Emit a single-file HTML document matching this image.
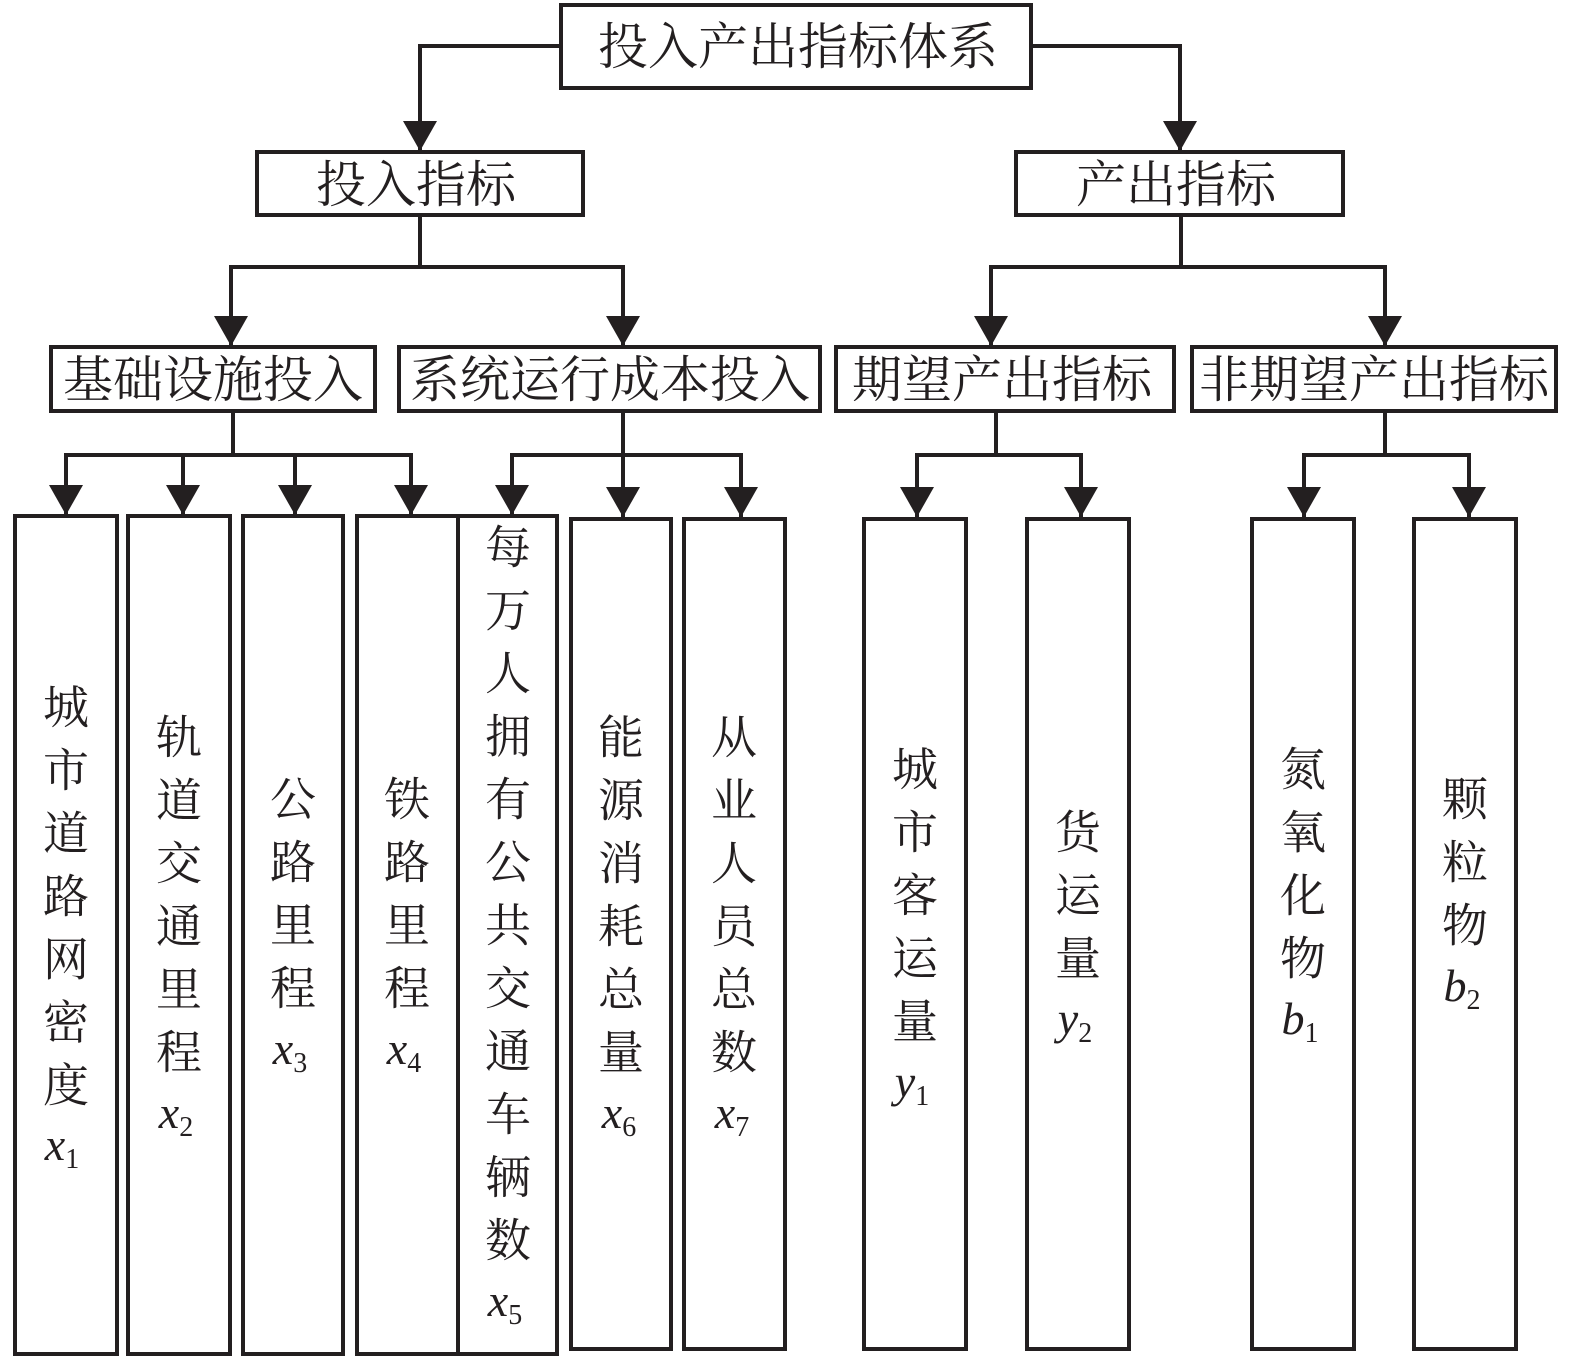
<!DOCTYPE html>
<html><head><meta charset="utf-8"><style>
html,body{margin:0;padding:0;background:#fff;}
svg{display:block;}
.c{font-family:"Liberation Serif","Noto Serif CJK SC",serif;font-size:46px;fill:#231f20;}
.b{font-family:"Liberation Serif","Noto Serif CJK SC",serif;font-size:50px;fill:#231f20;}
.l{font-family:"Liberation Serif",serif;font-size:46px;font-style:italic;fill:#231f20;}
.s{font-size:28px;font-style:normal;}
</style></head><body>
<svg width="1575" height="1362" viewBox="0 0 1575 1362" xmlns="http://www.w3.org/2000/svg">
<defs><marker id="a" markerWidth="34" markerHeight="30" refX="17" refY="30" orient="0" markerUnits="userSpaceOnUse"><path d="M0,0 L34,0 L17,30 Z" fill="#231f20"/></marker></defs>
<g fill="none" stroke="#231f20" stroke-width="4">
<rect x="561" y="5" width="470" height="83"/>
<rect x="257" y="152" width="326" height="63"/>
<rect x="1016" y="152" width="327" height="63"/>
<rect x="51" y="347" width="324" height="64"/>
<rect x="399" y="347" width="421" height="64"/>
<rect x="836" y="347" width="338" height="64"/>
<rect x="1192" y="347" width="364" height="64"/>
<rect x="15" y="516" width="102" height="838"/>
<rect x="128" y="516" width="102" height="838"/>
<rect x="243" y="516" width="100" height="838"/>
<rect x="357" y="516" width="101" height="838"/>
<rect x="458" y="516" width="99" height="838"/>
<rect x="571" y="519" width="100" height="830"/>
<rect x="684" y="519" width="101" height="830"/>
<rect x="864" y="519" width="102" height="830"/>
<rect x="1027" y="519" width="102" height="830"/>
<rect x="1252" y="519" width="102" height="830"/>
<rect x="1414" y="519" width="102" height="830"/>
<polyline points="561,46 420,46 420,151" marker-end="url(#a)"/>
<polyline points="1031,46 1180,46 1180,151" marker-end="url(#a)"/>
<line x1="420" y1="215" x2="420" y2="267"/>
<polyline points="231,267 231,346" marker-end="url(#a)"/>
<polyline points="623,267 623,346" marker-end="url(#a)"/>
<line x1="229" y1="267" x2="625" y2="267"/>
<line x1="1181" y1="215" x2="1181" y2="267"/>
<line x1="989" y1="267" x2="1387" y2="267"/>
<polyline points="991,267 991,346" marker-end="url(#a)"/>
<polyline points="1385,267 1385,346" marker-end="url(#a)"/>
<line x1="233" y1="411" x2="233" y2="455"/>
<line x1="64" y1="455" x2="413" y2="455"/>
<line x1="66" y1="455" x2="66" y2="515" marker-end="url(#a)"/>
<line x1="183" y1="455" x2="183" y2="515" marker-end="url(#a)"/>
<line x1="295" y1="455" x2="295" y2="515" marker-end="url(#a)"/>
<line x1="411" y1="455" x2="411" y2="515" marker-end="url(#a)"/>
<line x1="623" y1="411" x2="623" y2="517" marker-end="url(#a)"/>
<line x1="510" y1="455" x2="743" y2="455"/>
<line x1="512" y1="455" x2="512" y2="515" marker-end="url(#a)"/>
<line x1="741" y1="455" x2="741" y2="517" marker-end="url(#a)"/>
<line x1="996" y1="411" x2="996" y2="455"/>
<line x1="915" y1="455" x2="1083" y2="455"/>
<line x1="917" y1="455" x2="917" y2="517" marker-end="url(#a)"/>
<line x1="1081" y1="455" x2="1081" y2="517" marker-end="url(#a)"/>
<line x1="1385" y1="411" x2="1385" y2="455"/>
<line x1="1302" y1="455" x2="1471" y2="455"/>
<line x1="1304" y1="455" x2="1304" y2="517" marker-end="url(#a)"/>
<line x1="1469" y1="455" x2="1469" y2="517" marker-end="url(#a)"/>
</g>
<g class="b" text-anchor="middle" dominant-baseline="central">
<text x="798" y="47">投入产出指标体系</text>
<text x="416" y="185">投入指标</text>
<text x="1176" y="185">产出指标</text>
<text x="213" y="380">基础设施投入</text>
<text x="610" y="380">系统运行成本投入</text>
<text x="1002" y="380">期望产出指标</text>
<text x="1374" y="380">非期望产出指标</text>
</g>
<g class="c" text-anchor="middle" dominant-baseline="central">
<text x="66" y="708">城</text><text x="66" y="771">市</text><text x="66" y="834">道</text><text x="66" y="897">路</text><text x="66" y="960">网</text><text x="66" y="1023">密</text><text x="66" y="1086">度</text>
<text x="179" y="738">轨</text><text x="179" y="801">道</text><text x="179" y="864">交</text><text x="179" y="927">通</text><text x="179" y="990">里</text><text x="179" y="1053">程</text>
<text x="293" y="800">公</text><text x="293" y="863">路</text><text x="293" y="926">里</text><text x="293" y="989">程</text>
<text x="407" y="800">铁</text><text x="407" y="863">路</text><text x="407" y="926">里</text><text x="407" y="989">程</text>
<text x="508" y="548">每</text><text x="508" y="611">万</text><text x="508" y="674">人</text><text x="508" y="737">拥</text><text x="508" y="800">有</text><text x="508" y="863">公</text><text x="508" y="926">共</text><text x="508" y="989">交</text><text x="508" y="1052">通</text><text x="508" y="1115">车</text><text x="508" y="1178">辆</text><text x="508" y="1241">数</text>
<text x="621" y="738">能</text><text x="621" y="801">源</text><text x="621" y="864">消</text><text x="621" y="927">耗</text><text x="621" y="990">总</text><text x="621" y="1053">量</text>
<text x="734" y="738">从</text><text x="734" y="801">业</text><text x="734" y="864">人</text><text x="734" y="927">员</text><text x="734" y="990">总</text><text x="734" y="1053">数</text>
<text x="915" y="770">城</text><text x="915" y="833">市</text><text x="915" y="896">客</text><text x="915" y="959">运</text><text x="915" y="1022">量</text>
<text x="1078" y="833">货</text><text x="1078" y="896">运</text><text x="1078" y="959">量</text>
<text x="1303" y="770">氮</text><text x="1303" y="833">氧</text><text x="1303" y="896">化</text><text x="1303" y="959">物</text>
<text x="1465" y="800">颗</text><text x="1465" y="863">粒</text><text x="1465" y="926">物</text>
</g>
<g class="l" text-anchor="middle">
<text x="62" y="1160">x<tspan class="s" dy="8">1</tspan></text>
<text x="176" y="1128">x<tspan class="s" dy="8">2</tspan></text>
<text x="290" y="1064">x<tspan class="s" dy="8">3</tspan></text>
<text x="404" y="1064">x<tspan class="s" dy="8">4</tspan></text>
<text x="505" y="1316">x<tspan class="s" dy="8">5</tspan></text>
<text x="619" y="1128">x<tspan class="s" dy="8">6</tspan></text>
<text x="732" y="1128">x<tspan class="s" dy="8">7</tspan></text>
<text x="912" y="1097">y<tspan class="s" dy="8">1</tspan></text>
<text x="1075" y="1034">y<tspan class="s" dy="8">2</tspan></text>
<text x="1300" y="1034">b<tspan class="s" dy="8">1</tspan></text>
<text x="1462" y="1001">b<tspan class="s" dy="8">2</tspan></text>
</g>
</svg>
</body></html>
